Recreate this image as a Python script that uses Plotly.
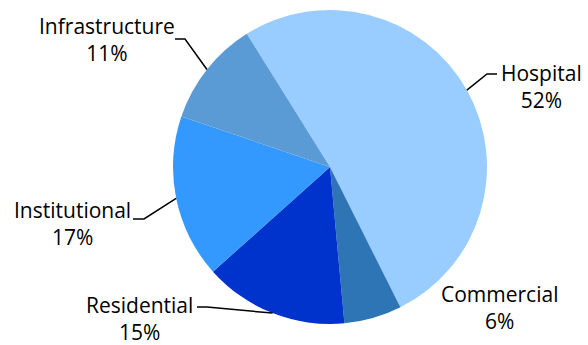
import math
import plotly.graph_objects as go

# Project share by sector
sectors = ["Hospital", "Commercial", "Residential", "Institutional", "Infrastructure"]
shares = [52, 6, 15, 17, 11]
colors = ["#99CCFF", "#2E75B6", "#0033CC", "#3399FF", "#5B9BD5"]

W, H = 588, 345
CX, CY, R = 330, 167, 157          # pie centre and radius in pixels
ROTATION = -32                     # first slice starts left of 12 o'clock

# Label placement (text block centre) and leader-line elbows, in pixels
label_pos = {
    "Hospital": (541, 86),
    "Commercial": (500, 307),
    "Residential": (139, 318),
    "Institutional": (72, 223),
    "Infrastructure": (107, 39),
}
leader = {  # (horizontal tail start x, elbow x, y) ; None = no leader line
    "Hospital": (497, 487, 74),
    "Commercial": None,
    "Residential": (197, 207, 307),
    "Institutional": (133, 144, 219),
    "Infrastructure": (175, 185, 39),
}

FONT = "Open Sans"


def px(x):
    return x / W


def py(y):
    return 1 - y / H


fig = go.Figure(
    go.Pie(
        labels=sectors,
        values=shares,
        marker=dict(colors=colors, line=dict(width=0)),
        sort=False,
        direction="clockwise",
        rotation=ROTATION,
        textinfo="none",
        hoverinfo="label+value",
        domain=dict(x=[px(CX - R), px(CX + R)], y=[py(CY + R), py(CY - R)]),
        showlegend=False,
    )
)

total = sum(shares)
angle = ROTATION
annotations = []
shapes = []
for name, val in zip(sectors, shares):
    span = val / total * 360
    mid = math.radians(angle + span / 2)
    angle += span
    ex = CX + R * math.sin(mid)
    ey = CY - R * math.cos(mid)
    lx, ly = label_pos[name]
    annotations.append(
        dict(
            x=px(lx), y=py(ly), xref="paper", yref="paper",
            text=f"{name}<br>{val}%", showarrow=False,
            xanchor="center", yanchor="middle", align="center",
            font=dict(family=FONT, size=21, color="#000000"),
        )
    )
    seg = leader[name]
    if seg:
        tx, elx, ty = seg
        path = f"M {px(tx)} {py(ty)} L {px(elx)} {py(ty)} L {px(ex)} {py(ey)}"
        shapes.append(
            dict(type="path", xref="paper", yref="paper", path=path,
                 line=dict(color="#000000", width=1.5))
        )

fig.update_layout(
    width=W, height=H,
    margin=dict(l=0, r=0, t=0, b=0),
    paper_bgcolor="white", plot_bgcolor="white",
    annotations=annotations, shapes=shapes,
)

fig.write_html("out.html")
